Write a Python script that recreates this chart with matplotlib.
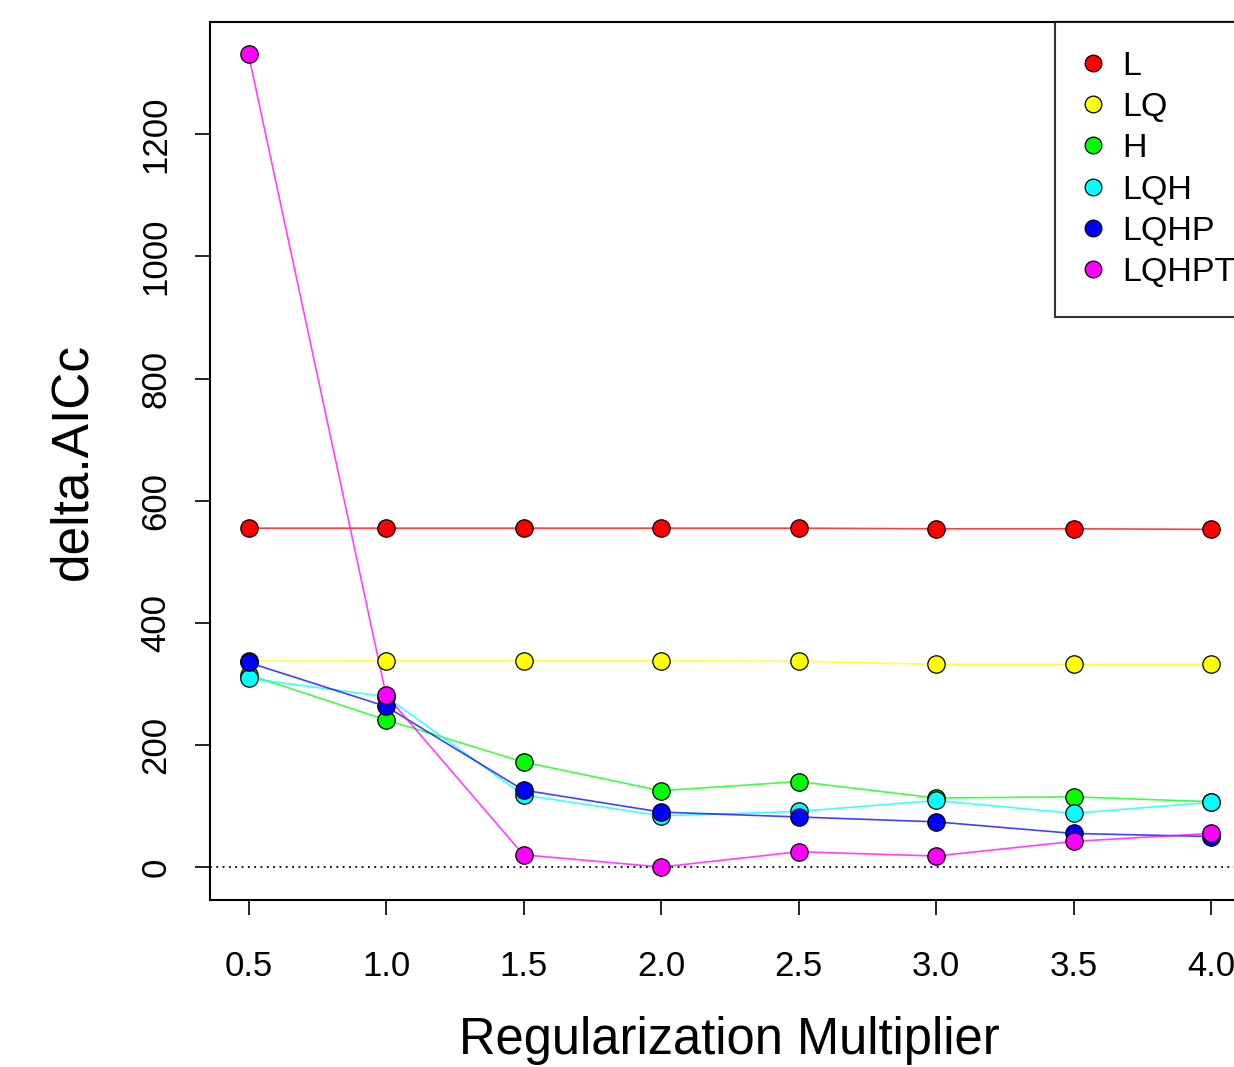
import matplotlib
matplotlib.use("Agg")
from matplotlib import pyplot as plt
from matplotlib.lines import Line2D

plt.rcParams['font.family'] = ['Liberation Sans', 'DejaVu Sans']

multiplier = [0.5, 1.0, 1.5, 2.0, 2.5, 3.0, 3.5, 4.0]
models = ['L', 'LQ', 'H', 'LQH', 'LQHP', 'LQHPT']
colors = ['#ff0000', '#ffff00', '#00ff00', '#00ffff', '#0000ff', '#ff00ff']

L = [555, 555, 555, 555, 555, 554, 554, 553]
LQ = [337, 338, 338, 338, 337, 332, 332, 332]
H = [315, 241, 172, 125, 140, 113, 115, 107]
LQH = [309, 279, 118, 84, 91, 109, 88, 106]
LQHP = [335, 263, 126, 90, 82, 74, 55, 50]
LQHPT = [1331, 282, 20, 0, 25, 18, 42, 55]
series = [L, LQ, H, LQH, LQHP, LQHPT]

fig = plt.figure(figsize=(12.34, 10.67), dpi=100)
# axes box runs past the right edge of the picture, as in the original
ax = fig.add_axes([210/1234, 167/1067, 1039.5/1234, 878/1067])

ax.axhline(0, color='black', linestyle=(0, (1, 2.5)), linewidth=1.3, zorder=1)

for i, (vals, c) in enumerate(zip(series, colors)):
    ax.plot(multiplier, vals, color=c, alpha=0.75, linewidth=1.2, zorder=2 + i)
    ax.plot(multiplier, vals, linestyle='none', marker='o', markersize=12.5,
            markerfacecolor=c, markeredgecolor='black', markeredgewidth=0.9,
            zorder=10 + i)

ax.set_xlim(0.36, 4.14)
ax.set_ylim(-54, 1384)
ax.set_xticks(multiplier)
ax.set_xticklabels(['%.1f' % m for m in multiplier])
ax.set_yticks(range(0, 1201, 200))
ax.tick_params(axis='both', direction='out', length=11, width=1.2, labelsize=25,
               colors='black')
ax.tick_params(axis='x', pad=25)
ax.tick_params(axis='y', pad=16)
for lab in ax.get_yticklabels():
    lab.set_rotation(90)
    lab.set_va('center')
for sp in ax.spines.values():
    sp.set_linewidth(1.5)

ax.set_xlabel('Regularization Multiplier', fontsize=36.5, labelpad=24)
ax.set_ylabel('delta.AICc', fontsize=37, labelpad=30)

handles = [Line2D([], [], linestyle='none', marker='o', markersize=12,
                  markerfacecolor=c, markeredgecolor='black', markeredgewidth=0.9)
           for c in colors]
leg = ax.legend(handles, models, loc='upper right',
                bbox_to_anchor=(1 + 15/1039.5, 1),
                borderaxespad=0, fontsize=24.5, frameon=True, fancybox=False,
                edgecolor='black', handlelength=0.5, handletextpad=0.62,
                labelspacing=0.3, borderpad=0.85)
leg.get_frame().set_linewidth(1.5)

fig.savefig('out.png', dpi=100)
